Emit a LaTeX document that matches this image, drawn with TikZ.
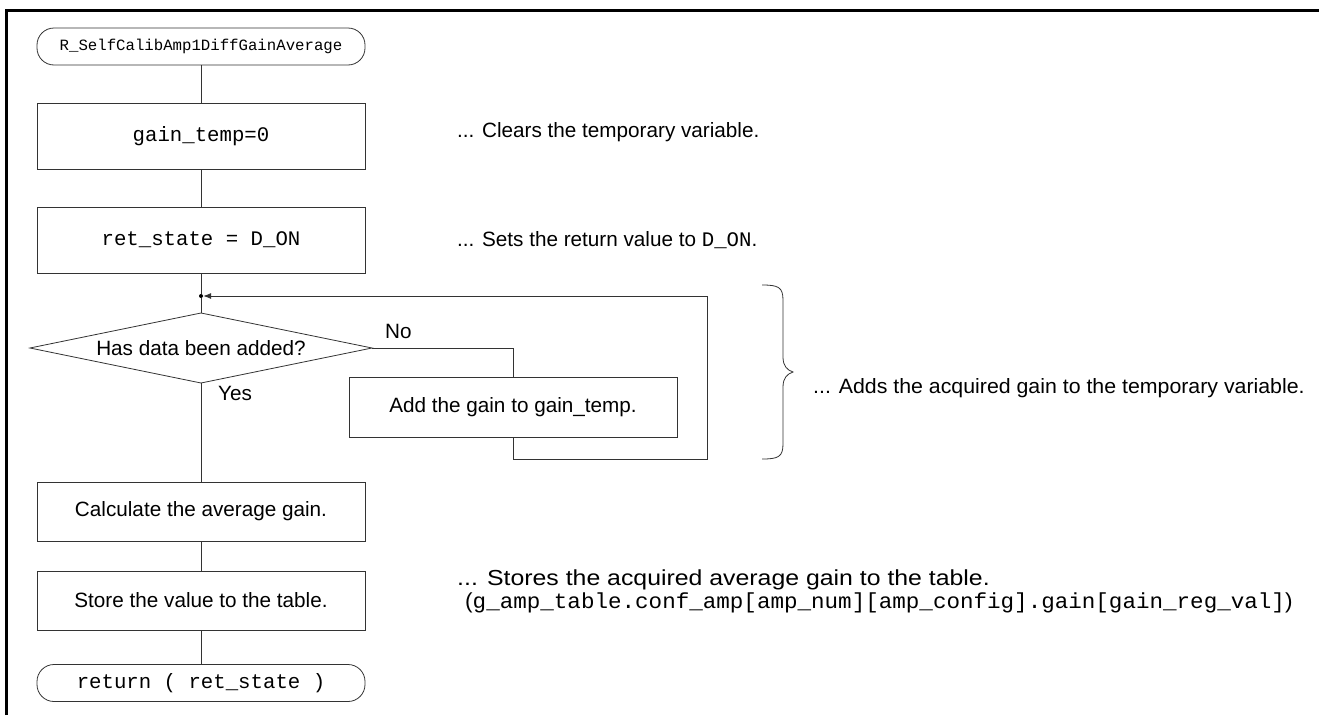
\documentclass[tikz,border=0pt]{standalone}
\usepackage{fontspec}
\setmainfont{Liberation Sans}
\setmonofont{Liberation Mono}
\usetikzlibrary{arrows.meta}
\begin{document}
\begin{tikzpicture}[x=1pt,y=-1pt,
  line/.style={draw=black!80, line width=0.8pt},
  term/.style={line, rounded corners=17pt, minimum width=328pt, minimum height=37pt, inner sep=0pt, font=\fontsize{20.7}{24}\selectfont\ttfamily},
  proc/.style={line, minimum width=328pt, minimum height=66pt, inner sep=0pt, font=\fontsize{20.7}{24}\selectfont},
  note/.style={anchor=west, inner sep=0pt, font=\fontsize{20.7}{24}\selectfont},
  lbl/.style={inner sep=0pt, font=\fontsize{20.7}{24}\selectfont}]
\useasboundingbox (0,0) rectangle (1319,715);
\draw[line width=3pt] (6,715) -- (6,10) -- (1319,10);

\node[term, font=\fontsize{15.7}{18}\selectfont\ttfamily] (start) at (201,46.5) {R\_SelfCalibAmp1DiffGainAverage};
\node[proc, font=\fontsize{20.7}{24}\selectfont\ttfamily] (b1) at (201,136) {gain\_temp=0};
\node[proc, font=\fontsize{20.7}{24}\selectfont\ttfamily] (b2) at (201,240) {ret\_state = D\_ON};
\node[circle, fill=black, inner sep=0pt, minimum size=4pt] (dot) at (201,296) {};
\node[lbl] (dec) at (201,348) {Has data been added?};
\coordinate (decN) at (201,313);
\coordinate (decS) at (201,383);
\coordinate (decE) at (372,348);
\coordinate (decW) at (30,348);
\draw[line] (decN) -- (decE) -- (decS) -- (decW) -- cycle;
\node[proc, minimum height=60pt] (b3) at (513,407) {Add the gain to gain\_temp.};
\node[proc, minimum height=59pt] (b4) at (201,511.5) {Calculate the average gain.};
\node[proc, minimum height=59pt] (b5) at (201,600.5) {Store the value to the table.};
\node[term] (end) at (201,683) {return ( ret\_state )};

\coordinate (c1) at (513,348);
\coordinate (c2) at (513,459);
\coordinate (c3) at (707,459);
\coordinate (c4) at (707,296);

\draw[line] (start) -- (b1);
\draw[line] (b1) -- (b2);
\draw[line] (b2) -- (dot);
\draw[line] (dot) -- (decN);
\draw[line] (decE) -- (c1) -- (b3.north);
\draw[line] (b3.south) -- (c2) -- (c3) -- (c4);
\draw[line, -{Latex[length=8pt,width=6pt]}] (c4) -- (dot.east);
\draw[line] (decS) -- (b4);
\draw[line] (b4) -- (b5);
\draw[line] (b5) -- (end);

\node[lbl, anchor=west] (no) at (385,331) {No};
\node[lbl, anchor=west] (yes) at (218,393) {Yes};

\node[note] (n1) at (457,132) {... Clears the temporary variable.};
\node[note] (n2) at (457,240) {... Sets the return value to \texttt{D\_ON}.};
\draw[line] (762,285) .. controls (778,285) and (783,287) .. (783,300) -- (783,357) .. controls (783,366) and (787,370) .. (793,372)
  .. controls (787,374) and (783,378) .. (783,387) -- (783,444) .. controls (783,457) and (778,459) .. (762,459);
\node[note] (n3) at (813,388) {\scalebox{1.03}[1]{... Adds the acquired gain to the temporary variable.}};
\node[note] (n4) at (457,580) {\scalebox{1.2}[1.05]{... Stores the acquired average gain to the table.}};
\node[note] (n5) at (465,603) {\scalebox{1.09}[1.05]{(\texttt{g\_amp\_table.conf\_amp[amp\_num][amp\_config].gain[gain\_reg\_val]})}};
\end{tikzpicture}
\end{document}
